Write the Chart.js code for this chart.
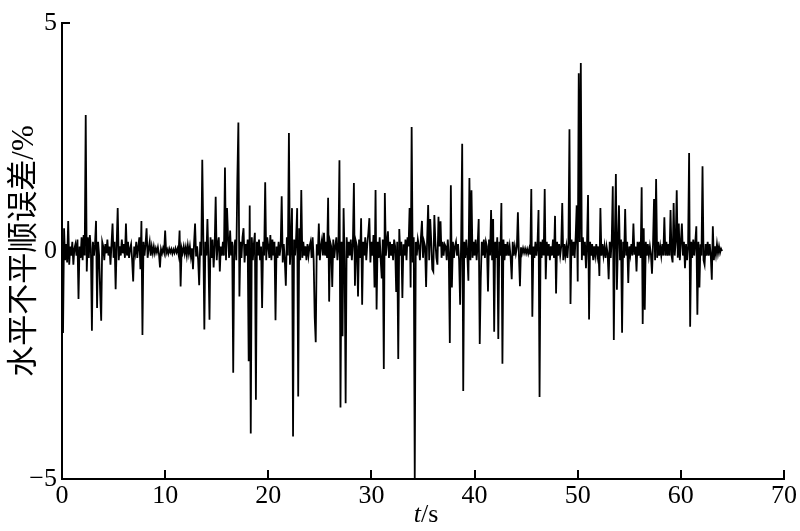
<!DOCTYPE html>
<html>
<head>
<meta charset="utf-8">
<script src="https://cdn.jsdelivr.net/npm/chart.js@4.4.1/dist/chart.umd.min.js"></script>
<style>
  html, body { margin: 0; padding: 0; background: #fff; }
  canvas { display: block; }
</style>
</head>
<body>
<canvas id="errChart" width="800" height="531"></canvas>
<script>
// pas d'echantillonnage (s)
const sampleStep = 0.1;

// erreur de planeite laterale (%), un tableau par tranche de 10 s
const err0to10 = [
  0.4, -1.8, 0.5, -0.2, 0.15, -0.25, 0.66, -0.3, 0.1, -0.1,
  0.2, -0.3, 0.05, 0.15, -0.1, 0.25, -1.05, 0.1, -0.15, 0.3,
  -0.2, 0.35, -0.1, 2.98, -0.45, 0.3, -0.15, 0.35, 0.05, -1.75,
  0.2, -0.1, 0.15, 0.66, -1.25, 0.2, -0.1, -0.91, -1.53, 0.2,
  0.1, -0.2, 0.15, -0.05, 0.25, -0.1, 0.1, -0.3, 0.15, 0.6,
  -0.15, 0.2, -0.84, 0.15, 0.94, -0.2, 0.1, -0.1, 0.25, -0.05,
  0.15, -0.15, 0.6, -0.1, 0.2, -0.15, 0.05, 0.15, -0.2, -0.67,
  0.1, -0.05, 0.2, -0.15, 0.1, 0.3, -0.4, 0.66, -1.84, 0.2,
  -0.1, 0.15, 0.5, -0.15, 0.05, 0.2, -0.1, 0.1, -0.05, 0.1,
  -0.05, 0.06, -0.03, 0.08, -0.06, -0.36, 0.04, -0.05, 0.06, -0.03
];
const err10to20 = [
  0.45, -0.05, 0.03, -0.06, 0.05, -0.03, 0.04, -0.06, 0.03, -0.04,
  0.06, -0.03, 0.05, -0.08, 0.45, -0.78, 0.06, -0.04, 0.1, -0.06,
  0.08, -0.1, 0.12, -0.06, 0.1, -0.12, 0.06, -0.4, 0.15, 0.6,
  -0.12, 0.1, -0.2, -0.75, 0.2, -0.1, 2.0, 0.3, -1.72, 0.2,
  -0.1, 0.7, -0.2, -1.51, 0.3, -0.15, 0.25, -0.36, 0.1, 1.19,
  -0.2, 0.15, 0.3, -0.45, 0.1, -0.1, 0.2, -0.1, 1.83, -0.2,
  0.94, 0.3, -0.15, 0.45, -0.1, 0.2, -2.67, 0.1, 0.25, -0.2,
  1.56, 2.82, -1.0, 0.2, -0.15, 0.3, 0.5, -0.25, 0.15, -0.1,
  0.25, -2.42, 1.0, -4.0, 0.3, -0.2, 0.15, 0.4, -3.26, 0.2,
  -0.1, 0.25, -0.2, 0.1, -1.25, 0.2, -0.1, 1.51, -0.2, 0.3
];
const err20to30 = [
  0.1, -0.15, 0.35, -0.2, 0.25, -0.1, 0.2, -1.52, 0.1, -0.15,
  0.2, -0.1, 0.1, 1.2, -0.25, 0.15, -0.2, -0.76, 0.3, -0.1,
  2.59, -0.3, 0.2, 0.94, -4.07, 0.25, -0.1, 0.3, 0.94, -3.19,
  0.5, -0.2, 1.34, -0.15, 0.2, -0.1, 0.1, -0.2, 0.15, -0.1,
  0.1, 0.2, -0.15, 0.3, -0.2, -1.45, -2.0, 0.15, -0.1, 0.6,
  -0.2, 0.1, 0.25, -0.1, 0.4, -0.1, 0.2, -0.15, 1.17, -1.11,
  0.2, 0.1, -0.79, 0.25, -0.15, 0.1, 0.3, -0.2, 0.1, 1.99,
  -3.43, 0.2, -1.87, 0.94, -0.2, -3.34, 0.3, -0.15, 0.2, -0.1,
  0.25, -0.2, 0.15, 1.49, -0.76, 0.2, 0.1, -1.0, 0.25, -0.15,
  0.72, -1.18, 0.2, -0.1, 0.3, -0.2, 0.15, 0.4, 0.72, -0.25
];
const err30to40 = [
  0.2, -0.1, 0.35, -0.8, 1.34, -1.28, 0.2, -0.15, 0.3, -0.2,
  -0.6, 0.25, -2.59, 1.27, -0.1, 0.2, 0.43, -0.15, 0.2, -0.1,
  0.15, -0.2, 0.25, 0.1, -0.9, 0.2, -2.37, 0.48, -0.1, 0.2,
  -1.03, 0.15, -0.1, 0.25, -0.2, 0.3, 0.1, 0.94, -0.8, 2.72,
  -0.25, 0.3, -5.0, 0.2, -0.1, 0.25, 0.1, -0.2, 0.3, 0.66,
  -0.15, 0.2, 0.1, -0.79, 0.25, 1.01, -0.2, 0.7, 0.2, -0.4,
  -0.45, 0.79, 0.2, -0.15, -0.3, 0.75, 0.1, 0.65, -0.15, 0.2,
  -0.1, 0.15, 0.1, -0.2, 0.25, -0.1, -2.02, 1.44, -0.8, 0.2,
  -0.15, 0.1, 0.2, -0.1, 0.15, -0.2, -1.18, 0.3, 2.35, -3.07,
  0.2, -0.15, 0.25, -0.1, -0.65, 1.6, -0.2, 1.33, -0.15, 0.2
];
const err40to50 = [
  -0.1, 0.25, -0.2, 0.15, 0.7, -2.04, -0.6, 0.2, -0.1, 0.25,
  -0.15, 0.2, 0.1, -0.89, 0.25, -0.1, 0.9, -0.2, 0.7, -1.77,
  0.2, -0.15, 0.3, -1.93, 0.2, -0.1, 1.05, -2.47, 0.25, -0.2,
  0.15, -0.1, 0.2, -0.1, 0.1, -0.15, -0.62, 0.2, -0.1, 0.1,
  -0.06, 0.08, 0.85, -0.1, -0.77, 0.08, -0.05, 0.06, -0.04, 0.05,
  -0.05, 0.04, -0.06, 0.05, -0.08, 1.36, -1.44, 0.1, -0.15, 0.2,
  -0.1, 0.15, 0.9, -3.2, 0.2, -0.15, 0.25, -0.1, 1.36, -0.62,
  0.2, -0.1, 0.15, -0.2, 0.1, -0.1, 0.25, -0.15, 0.77, -0.93,
  0.2, -0.1, 0.15, -0.1, 0.1, 1.05, -0.2, 0.15, -0.1, 0.1,
  -0.15, 0.2, 2.67, -1.16, 0.25, -0.1, 0.2, -0.15, 0.3, 1.0
];
const err50to60 = [
  -0.67, 3.9, 0.2, 4.12, -0.2, 0.3, -0.1, 0.2, -0.38, 0.15,
  1.23, -1.5, 0.2, -0.1, 0.15, -0.2, 0.1, -0.1, 0.15, -0.1,
  0.1, -0.55, 0.94, -0.1, 0.15, -0.1, 0.1, -0.15, 0.1, -0.05,
  -0.62, 0.2, -0.15, 0.25, 1.42, -1.95, 0.3, 1.69, -0.85, 0.2,
  1.0, -0.2, 0.25, -1.79, 0.2, -0.15, 0.92, -0.1, 0.2, -0.7,
  0.1, -0.08, 0.15, -0.1, 0.6, -0.08, 0.1, -0.45, 0.2, -0.1,
  0.2, -0.15, 1.4, -1.6, 0.5, -1.29, 0.2, -0.1, 0.15, -0.1,
  0.1, -0.08, -0.5, 0.15, 1.14, -0.2, 1.58, -0.15, 0.2, -0.1,
  0.1, -0.1, 0.15, -0.1, 0.74, -0.1, 0.2, -0.1, 0.15, -0.1,
  0.9, -0.1, -0.25, 1.05, -0.1, 0.2, 1.33, -0.15, 0.6, -0.2
];
const err60to64 = [
  0.2, 0.6, -0.1, 0.2, -0.38, 0.15, -0.2, 0.1, 2.15, -1.66,
  0.2, -0.15, 0.25, -0.1, 0.2, 0.54, -1.4, 0.2, -0.8, 0.15,
  -0.1, 1.86, -0.2, -0.3, 0.15, -0.1, 0.2, -0.1, 0.15, -0.1,
  -0.63, 0.54, -0.2, 0.1, -0.08, 0.15, -0.05, 0.1, -0.04, 0.05,
  0.0
];

const xTicks = [0, 10, 20, 30, 40, 50, 60, 70];
const yTicks = [-5, 0, 5];

const errValues = [].concat(err0to10, err10to20, err20to30, err30to40, err40to50, err50to60, err60to64);
const points = errValues.map((v, i) => ({ x: +(i * sampleStep).toFixed(1), y: v }));

const serif = '"Liberation Serif", "Times New Roman", serif';

// petits traits de graduation vers l'interieur + titre de l'axe x (t en italique)
const innerTicks = {
    id: 'innerTicks',
    afterDraw(chart) {
        const { ctx, chartArea: a, scales: { x, y } } = chart;
        ctx.save();
        ctx.strokeStyle = '#000';
        ctx.lineWidth = 2;
        ctx.beginPath();
        xTicks.forEach(v => {
            if (v === 0) return;
            const px = Math.round(x.getPixelForValue(v));
            ctx.moveTo(px, a.bottom);
            ctx.lineTo(px, a.bottom - 9);
        });
        yTicks.forEach(v => {
            if (v === -5) return;
            const py = Math.round(y.getPixelForValue(v));
            ctx.moveTo(a.left, py);
            ctx.lineTo(a.left + 8, py);
        });
        ctx.stroke();

        ctx.fillStyle = '#000';
        ctx.textBaseline = 'alphabetic';
        ctx.font = 'italic 26px ' + serif;
        const wT = ctx.measureText('t').width;
        ctx.font = '26px ' + serif;
        const wS = ctx.measureText('/s').width;
        const cx = (a.left + a.right) / 2 + 3;
        const x0 = cx - (wT + wS) / 2;
        ctx.font = 'italic 26px ' + serif;
        ctx.fillText('t', x0, 522);
        ctx.font = '26px ' + serif;
        ctx.fillText('/s', x0 + wT, 522);
        ctx.restore();
    }
};

new Chart(document.getElementById('errChart'), {
    type: 'line',
    data: {
        datasets: [{
            data: points,
            borderColor: '#000',
            borderWidth: 1.8,
            pointRadius: 0,
            tension: 0,
            fill: false
        }]
    },
    options: {
        responsive: false,
        animation: false,
        devicePixelRatio: 1,
        layout: { padding: { top: 23, right: 16, left: 0, bottom: 0 } },
        plugins: {
            legend: { display: false },
            tooltip: { enabled: false }
        },
        scales: {
            x: {
                type: 'linear',
                min: 0,
                max: 70,
                afterFit(scale) { scale.height = 52; },
                afterBuildTicks(scale) { scale.ticks = xTicks.map(v => ({ value: v })); },
                grid: { drawOnChartArea: false, drawTicks: false },
                border: { display: true, color: '#000', width: 2 },
                ticks: {
                    color: '#000',
                    padding: 2,
                    maxRotation: 0,
                    font: { family: serif, size: 26 }
                }
            },
            y: {
                type: 'linear',
                min: -5,
                max: 5,
                afterFit(scale) { scale.width = 62; },
                afterBuildTicks(scale) { scale.ticks = yTicks.map(v => ({ value: v })); },
                grid: { drawOnChartArea: false, drawTicks: false },
                border: { display: true, color: '#000', width: 2 },
                ticks: {
                    color: '#000',
                    padding: 5,
                    font: { family: serif, size: 26 },
                    callback: v => String(v).replace('-', '\u2212')
                },
                title: {
                    display: true,
                    text: '水平不平顺误差/%',
                    color: '#000',
                    padding: { top: 6, bottom: 0 },
                    font: { family: serif + ', "Noto Sans CJK SC"', size: 31 }
                }
            }
        }
    },
    plugins: [innerTicks]
});
</script>
</body>
</html>
